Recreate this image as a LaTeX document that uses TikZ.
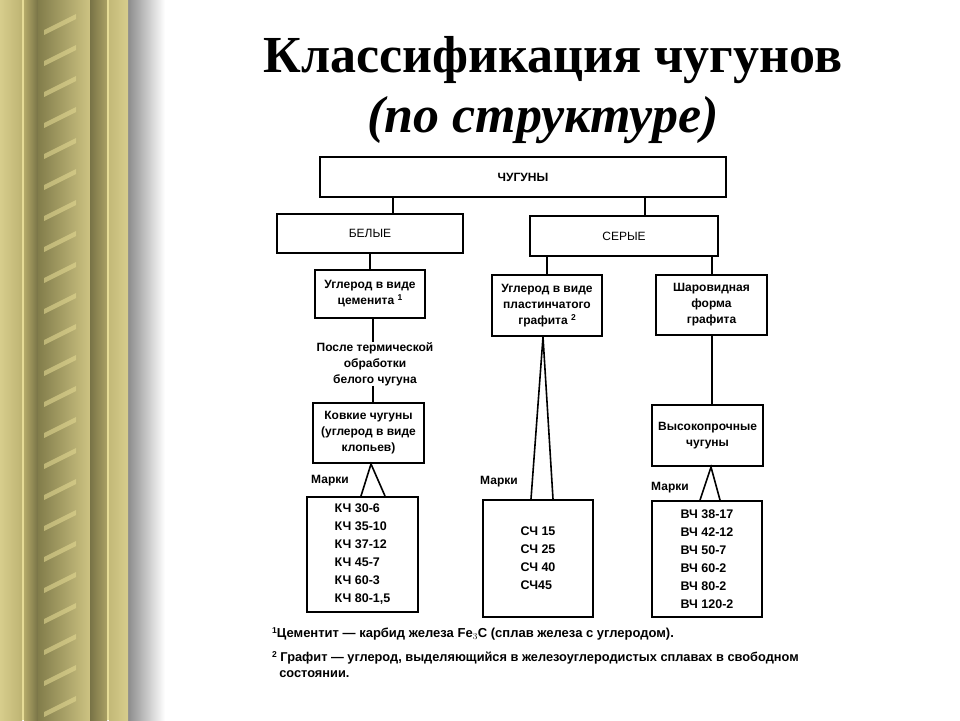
\documentclass[tikz,border=0pt]{standalone}
\usepackage{fontspec}
\setmainfont{Liberation Serif}
\newfontfamily\dg{Liberation Sans}
\newcommand\sups[1]{\raisebox{4pt}{\fontsize{8.5}{9}\selectfont #1}}
\definecolor{gA}{RGB}{215,205,140}
\definecolor{gB}{RGB}{190,180,115}
\definecolor{gL}{RGB}{230,220,150}
\definecolor{gC}{RGB}{180,170,105}
\definecolor{gD}{RGB}{120,115,70}
\definecolor{gE}{RGB}{130,125,75}
\definecolor{gF}{RGB}{205,195,130}
\definecolor{gG}{RGB}{170,160,100}
\definecolor{gH}{RGB}{195,185,120}
\definecolor{gS}{RGB}{225,215,145}
\begin{document}
\begin{tikzpicture}[x=1pt,y=-1pt,
  bx/.style={draw,line width=2pt,inner sep=0pt,align=center,font=\dg\bfseries\fontsize{12}{16}\selectfont},
  tx/.style={inner sep=0pt,align=center,font=\dg\bfseries\fontsize{12}{16}\selectfont},
  ln/.style={line width=2pt}]
\useasboundingbox (0,0) rectangle (960,720);
% frame
\fill[white] (0,0) rectangle (960,720);
\shade[left color=gray!90,right color=white] (128,0) rectangle (165,720);
\shade[left color=gA,right color=gB] (0,0) rectangle (22,720);
\fill[gL] (22,0) rectangle (24,720);
\shade[left color=gC,right color=gD] (24,0) rectangle (38,720);
\shade[left color=gE,right color=gF] (38,0) rectangle (90,720);
\foreach \k in {0,...,24}{
  \fill[gS,opacity=.6] (44,{30+\k*31}) -- (76,{14+\k*31}) -- (76,{19+\k*31}) -- (44,{35+\k*31}) -- cycle;}
\shade[left color=gD,right color=gG] (90,0) rectangle (107,720);
\fill[gL] (107,0) rectangle (109,720);
\shade[left color=gH,right color=gA] (109,0) rectangle (128,720);
% title
\node[font=\bfseries\fontsize{52}{56}\selectfont] (t1) at (553,60) {Классификация чугунов};
\node[font=\bfseries\itshape\fontsize{52}{56}\selectfont] (t2) at (543,120) {(по структуре)};
% boxes
\node[bx,minimum width=406,minimum height=40] (ch) at (523,177) {ЧУГУНЫ};
\node[bx,minimum width=186,minimum height=39,font=\dg\fontsize{12}{14}\selectfont] (be) at (370,233.5) {БЕЛЫЕ};
\node[bx,minimum width=188,minimum height=40,font=\dg\fontsize{12}{14}\selectfont] (se) at (624,236) {СЕРЫЕ};
\node[bx,minimum width=110,minimum height=48] (c1) at (370,294) {Углерод в виде\\цеменита \sups{1}};
\node[bx,minimum width=110,minimum height=61] (c2) at (547,305.5) {Углерод в виде\\пластинчатого\\графита \sups{2}};
\node[bx,minimum width=111,minimum height=60] (c3) at (711.5,305) {Шаровидная\\форма\\графита};
\node[tx] (po) at (375,364) {После термической\\обработки\\белого чугуна};
\node[bx,minimum width=111,minimum height=60] (kv) at (368.5,433) {Ковкие чугуны\\(углерод в виде\\клопьев)};
\node[bx,minimum width=111,minimum height=61] (vp) at (707.5,435.5) {Высокопрочные\\чугуны};
\node[bx,minimum width=111,minimum height=115,align=left,font=\dg\bfseries\fontsize{12.5}{18}\selectfont] (k1) at (362.5,554.5) {КЧ 30-6\\КЧ 35-10\\КЧ 37-12\\КЧ 45-7\\КЧ 60-3\\КЧ 80-1,5};
\node[bx,minimum width=110,minimum height=117,align=left,font=\dg\bfseries\fontsize{12.5}{18}\selectfont] (s1) at (538,558.5) {СЧ 15\\СЧ 25\\СЧ 40\\СЧ45};
\node[bx,minimum width=110,minimum height=116,align=left,font=\dg\bfseries\fontsize{12.5}{18}\selectfont] (v1) at (707,559) {ВЧ 38-17\\ВЧ 42-12\\ВЧ 50-7\\ВЧ 60-2\\ВЧ 80-2\\ВЧ 120-2};
\node[tx] (m1) at (330,481) {Марки};
\node[tx] (m2) at (499,482) {Марки};
\node[tx] (m3) at (670,488) {Марки};
% connectors
\draw[ln] (ch.south -| be.north) ++(23,0) -- ++(0,17);
\draw[ln] (ch.south -| se.north) ++(21,0) -- ++(0,19);
\draw[ln] (be.south) -- (c1.north);
\draw[ln] (se.south -| c2.north) -- (c2.north);
\draw[ln] (se.south -| c3.north) -- (c3.north);
\draw[ln] (c1.south -| 373,0) -- (po.north -| 373,0);
\draw[ln] (po.south -| 373,0) -- (kv.north -| 373,0);
\draw[ln] (c3.south) -- (vp.north -| c3.south);
\draw[ln,line width=1.6pt] (k1.north -| 361,0) -- (kv.south -| 371,0) -- (k1.north -| 385,0);
\draw[ln,line width=1.6pt] (s1.north -| 531,0) -- (c2.south -| 543,0) -- (s1.north -| 553,0);
\draw[ln,line width=1.6pt] (v1.north -| 700,0) -- (vp.south -| 711,0) -- (v1.north -| 720,0);
% footnotes
\node[tx,anchor=west,font=\dg\bfseries\fontsize{13}{15}\selectfont] (f1) at (272,634) {\sups{1}Цементит — карбид железа Fe$_3$C (сплав железа с углеродом).};
\node[tx,anchor=north west,align=left,font=\dg\bfseries\fontsize{12.8}{16}\selectfont] (f2) at (272,651) {\sups{2} Графит — углерод, выделяющийся в железоуглеродистых сплавах в свободном\\\ \ состоянии.};
\end{tikzpicture}
\end{document}
